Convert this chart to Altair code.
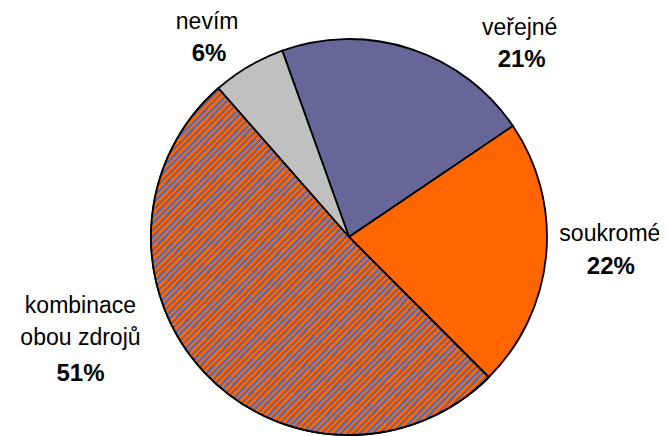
import math
import altair as alt
import pandas as pd

# ---- data ----
categories = ["veřejné", "soukromé", "kombinace obou zdrojů", "nevím"]
name_labels = ["veřejné", "soukromé", "kombinace\nobou zdrojů", "nevím"]
values = [21, 22, 51, 6]
pct_labels = ["21%", "22%", "51%", "6%"]
slice_order = [0, 1, 2, 3]
slice_colors = ["#666699", "#FF6600", "#FF6600", "#C0C0C0"]

df = pd.DataFrame({
    "cat": categories,
    "name": name_labels,
    "value": values,
    "pct": pct_labels,
    "order": slice_order,
})

# ---- layout ----
W, H = 651, 428
CX, CY = 341, 229
R = 198
R_LABEL = 250
start = math.radians(-19.7)
theta_scale = alt.Scale(domain=[0, 100], range=[start, start + 2 * math.pi])
FONT = "Liberation Sans"

# diagonal stripes (orange / blue) for the hatched slice
n_periods = 105
stops = []
for i in range(n_periods):
    o0 = i / n_periods
    o1 = (i + 0.52) / n_periods
    o2 = (i + 1) / n_periods
    stops += [
        {"offset": o0, "color": "#FF6600"},
        {"offset": o1, "color": "#FF6600"},
        {"offset": o1, "color": "#666699"},
        {"offset": o2, "color": "#666699"},
    ]
stripes = {"gradient": "linear", "x1": 0, "y1": 0, "x2": 1, "y2": 1, "stops": stops}

base = alt.Chart(df).encode(
    theta=alt.Theta("value:Q", stack=True, scale=theta_scale),
    order=alt.Order("order:Q"),
    x=alt.value(CX),
    y=alt.value(CY),
)

pie = base.mark_arc(radius=R, stroke="black", strokeWidth=1.8).encode(
    fill=alt.Fill("cat:N", scale=alt.Scale(domain=categories, range=slice_colors), legend=None)
)

hatch = base.mark_arc(radius=R, fill=stripes, stroke="black", strokeWidth=1.8).encode(
    opacity=alt.condition("datum.cat == 'kombinace obou zdrojů'", alt.value(1), alt.value(0))
)

label_base = alt.Chart(df).transform_window(
    cum="sum(value)", sort=[alt.SortField("order")], frame=[None, 0]
).transform_calculate(mid="datum.cum - datum.value / 2")

# label offsets (dx, dy) from the anchor at mid-angle, radius R_LABEL
offsets = {
    "veřejné": ((93, 29), (95, 61)),
    "soukromé": ((12, -27), (13, 6)),
    "kombinace obou zdrojů": ((-86, -102), (-86, -34)),
    "nevím": ((-15, 0), (-13, 32)),
}

layers = [pie, hatch]
for cat, ((ndx, ndy), (pdx, pdy)) in offsets.items():
    lb = label_base.transform_filter(alt.datum.cat == cat).encode(
        theta=alt.Theta("mid:Q", scale=theta_scale, stack=None),
        x=alt.value(CX),
        y=alt.value(CY),
    )
    layers.append(
        lb.mark_text(radius=R_LABEL, dx=ndx, dy=ndy, font=FONT, fontSize=23,
                     align="center", baseline="middle", lineBreak="\n",
                     lineHeight=32, color="black").encode(text="name:N")
    )
    layers.append(
        lb.mark_text(radius=R_LABEL, dx=pdx, dy=pdy, font=FONT, fontSize=24,
                     fontWeight="bold", align="center", baseline="middle",
                     color="black").encode(text="pct:N")
    )

chart = alt.layer(*layers).properties(
    width=W, height=H, autosize=alt.AutoSizeParams(type="none"), padding=0
).configure_view(stroke=None)

chart.save("out.html", embed_options={"renderer": "svg", "actions": False})
